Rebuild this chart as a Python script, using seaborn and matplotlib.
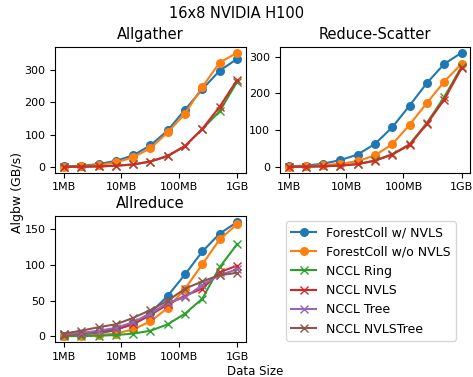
import matplotlib
matplotlib.use("Agg")
import matplotlib.pyplot as plt
import seaborn as sns
import pandas as pd

# data sizes in MB (1MB .. 1GB)
sizes_mb = [1, 2, 4, 8, 16, 32, 64, 128, 256, 512, 1024]
tick_pos = [1, 10, 100, 1024]
tick_labels = ["1MB", "10MB", "100MB", "1GB"]

allgather = {
    "ForestColl w/ NVLS": [2, 4, 9, 19, 36, 67, 113, 177, 240, 297, 333],
    "ForestColl w/o NVLS": [1, 3, 6, 14, 30, 58, 107, 165, 247, 322, 352],
    "NCCL Ring": [0.5, 1, 2, 4, 8, 17, 33, 65, 117, 172, 262],
    "NCCL NVLS": [0.5, 1, 2, 4, 8, 17, 35, 65, 118, 186, 268],
}

reduce_scatter = {
    "ForestColl w/ NVLS": [2, 4, 9, 19, 34, 63, 108, 167, 228, 280, 310],
    "ForestColl w/o NVLS": [1, 2, 5, 9, 16, 32, 62, 115, 174, 232, 280],
    "NCCL Ring": [0.5, 1, 2, 4, 8, 18, 35, 62, 120, 190, 272],
    "NCCL NVLS": [0.5, 1, 2, 4, 8, 17, 34, 60, 117, 183, 268],
}

allreduce = {
    "ForestColl w/ NVLS": [1, 2, 4, 9, 18, 33, 57, 87, 119, 144, 160],
    "ForestColl w/o NVLS": [0.5, 1, 2, 4, 10, 21, 40, 67, 101, 136, 157],
    "NCCL Ring": [0.3, 0.6, 1, 2, 4, 8, 17, 32, 53, 97, 129],
    "NCCL NVLS": [2, 4, 7, 10, 17, 30, 45, 57, 67, 90, 99],
    "NCCL Tree": [3, 5, 8, 12, 20, 32, 47, 55, 72, 86, 94],
    "NCCL NVLSTree": [4, 8, 13, 17, 26, 37, 50, 67, 77, 86, 89],
}

series_order = ["ForestColl w/ NVLS", "ForestColl w/o NVLS", "NCCL Ring",
                "NCCL NVLS", "NCCL Tree", "NCCL NVLSTree"]
colors = dict(zip(series_order, sns.color_palette("tab10", 6)))
markers = {s: ("o" if s.startswith("Forest") else "x") for s in series_order}

plt.rcParams["xtick.labelsize"] = 8
plt.rcParams["ytick.labelsize"] = 8

fig, axes = plt.subplots(2, 2, figsize=(4.73, 3.77), dpi=100)
plt.subplots_adjust(left=0.117, right=0.994, top=0.875, bottom=0.093,
                    wspace=0.18, hspace=0.35)

panels = [(axes[0, 0], "Allgather", allgather),
          (axes[0, 1], "Reduce-Scatter", reduce_scatter),
          (axes[1, 0], "Allreduce", allreduce)]

for ax, title, data in panels:
    for name in series_order:
        if name not in data:
            continue
        df = pd.DataFrame({"size": sizes_mb, "algbw": data[name]})
        is_x = markers[name] == "x"
        sns.lineplot(data=df, x="size", y="algbw", ax=ax, color=colors[name],
                     marker=markers[name], markersize=6 if is_x else 6.5,
                     markeredgewidth=1.0 if is_x else 0,
                     markeredgecolor=colors[name], label=name, legend=False)
    ax.set_xscale("log")
    ax.set_xticks(tick_pos)
    ax.set_xticklabels(tick_labels)
    ax.minorticks_off()
    ax.set_title(title, fontsize=10.5)
    ax.set_xlabel("")
    ax.set_ylabel("")

axes[0, 0].set_yticks([0, 100, 200, 300])
axes[0, 1].set_yticks([0, 100, 200, 300])
axes[1, 0].set_yticks([0, 50, 100, 150])

handles, labels = axes[1, 0].get_legend_handles_labels()
axes[1, 1].axis("off")
fig.legend(handles, labels, loc="upper left", bbox_to_anchor=(0.605, 0.413),
           fontsize=9, borderaxespad=0)

fig.suptitle("16x8 NVIDIA H100", y=0.985, fontsize=10.5)
fig.text(0.036, 0.49, "Algbw (GB/s)", rotation=90, ha="center", va="center", fontsize=9)
fig.text(0.54, -0.002, "Data Size", ha="center", va="bottom", fontsize=8.5)

plt.savefig("out.png", dpi=100)
